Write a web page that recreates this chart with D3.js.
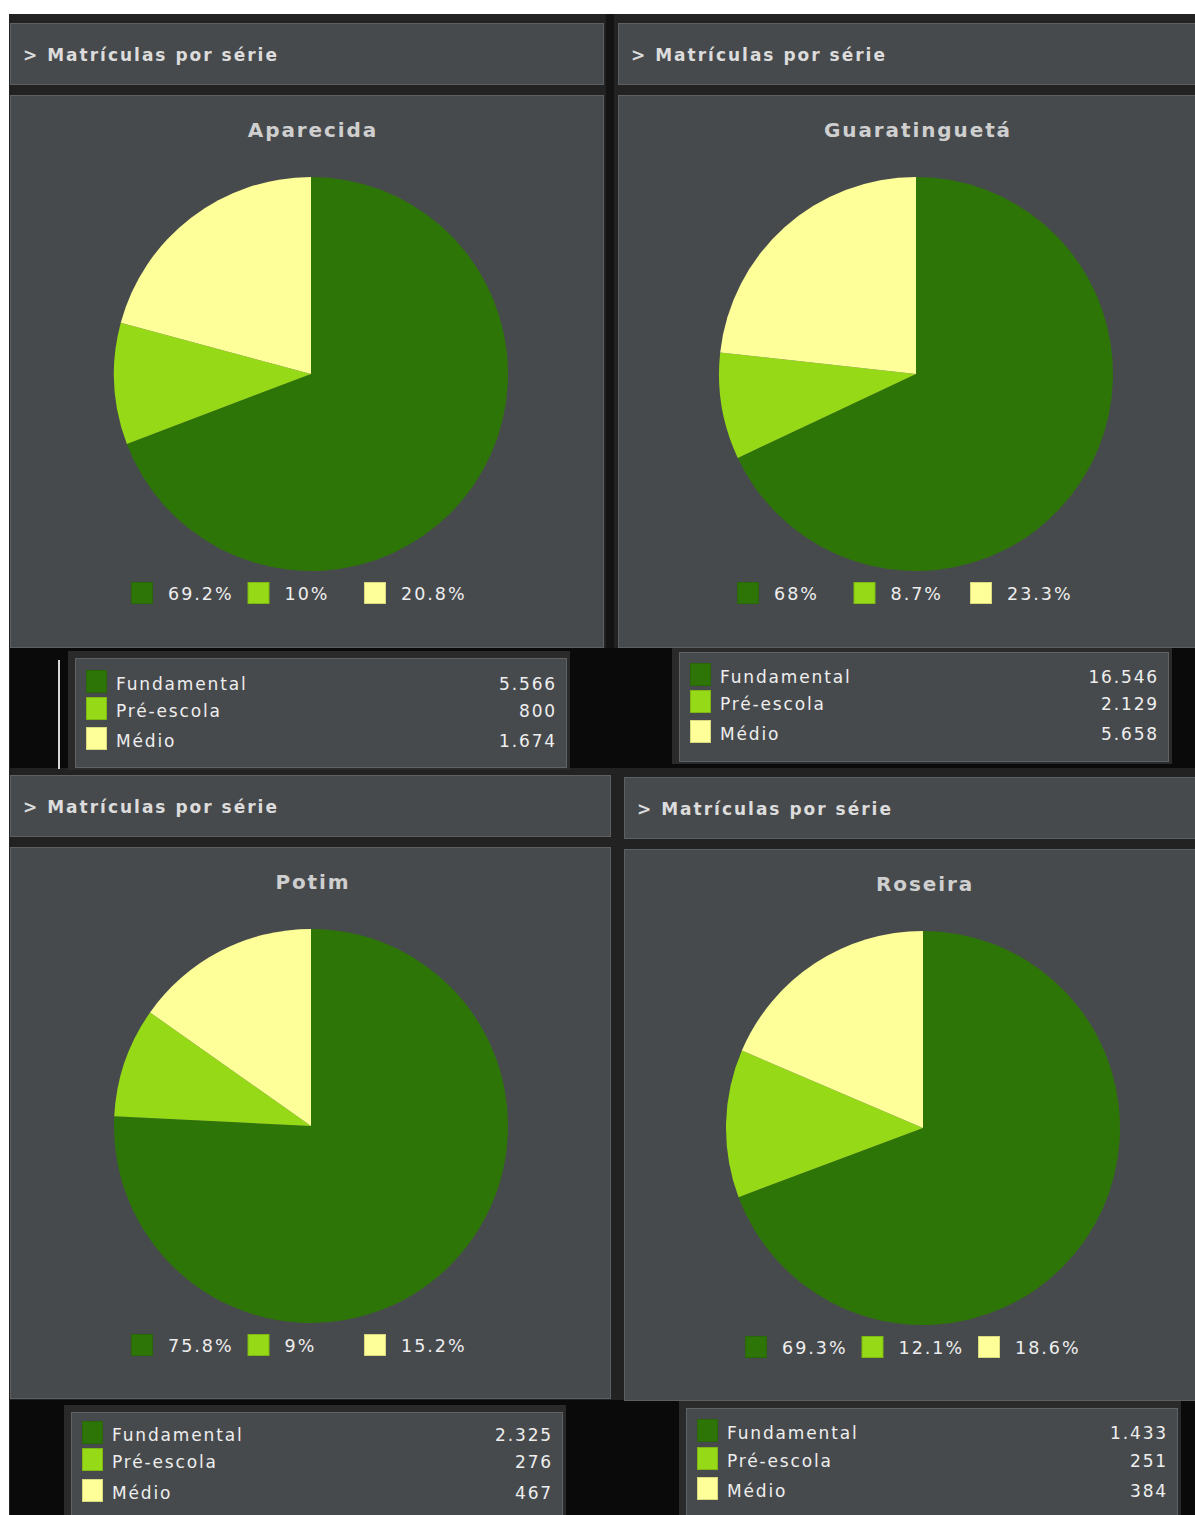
<!DOCTYPE html>
<html>
<head>
<meta charset="utf-8">
<script src="https://cdn.jsdelivr.net/npm/d3@7"></script>
<style>
  body { margin: 0; background: #fff; }
  svg { display: block; }
  text { font-family: "DejaVu Sans", Verdana, sans-serif; }
</style>
</head>
<body>
<svg id="chart" width="1195" height="1515"></svg>
<script>
var cities = ["Aparecida", "Guaratinguetá", "Potim", "Roseira"];
var categories = ["Fundamental", "Pré-escola", "Médio"];
var fundamental = [5566, 16546, 2325, 1433];
var preEscola = [800, 2129, 276, 251];
var medio = [1674, 5658, 467, 384];
var headerText = "> Matrículas por série";

var colors = ["#2e7508", "#96d916", "#ffff99"];
var borders = ["#286606", "#7fb812", "#d8d87e"];

// panel boxes, one per city (layout only)
var panels = [
    { x0: 10, x1: 604, hy: 23, cy: 95, cb: 648, pcx: 311, tx: 75, tw: 492, ty: 658, tb: 768, legX: 131, rows: [683, 710, 740], line: true },
    { x0: 618, x1: 1200, hy: 23, cy: 95, cb: 648, pcx: 916, tx: 679, tw: 490, ty: 652, tb: 762, legX: 737, rows: [676, 703, 733] },
    { x0: 10, x1: 611, hy: 775, cy: 847, cb: 1399, pcx: 311, tx: 71, tw: 492, ty: 1412, tb: 1530, legX: 131, rows: [1434, 1461, 1492] },
    { x0: 624, x1: 1200, hy: 777, cy: 849, cb: 1401, pcx: 923, tx: 686, tw: 492, ty: 1408, tb: 1530, legX: 745, rows: [1432, 1460, 1490] }
];

var locale = d3.formatLocale({ decimal: ",", thousands: ".", grouping: [3], currency: ["R$", ""] });
var fmtNum = locale.format(",d");
var fmtPct = function (v) { return d3.format(".1f")(v).replace(/\.0$/, "") + "%"; };

var svg = d3.select("#chart");

// backgrounds
svg.append("rect").attr("x", 9).attr("y", 14).attr("width", 1186).attr("height", 1501).attr("fill", "#222222");
svg.append("rect").attr("x", 606).attr("y", 14).attr("width", 8).attr("height", 634).attr("fill", "#131313");
svg.append("rect").attr("x", 10).attr("y", 648).attr("width", 1185).attr("height", 120).attr("fill", "#0a0a0a");
svg.append("rect").attr("x", 10).attr("y", 1400).attr("width", 1185).attr("height", 115).attr("fill", "#0a0a0a");

var pie = d3.pie().sort(null).value(function (d) { return d; });
var arc = d3.arc().innerRadius(0).outerRadius(197);

cities.forEach(function (city, i) {
    var p = panels[i];
    var values = [fundamental[i], preEscola[i], medio[i]];
    var total = d3.sum(values);
    var g = svg.append("g");

    // header
    g.append("rect").attr("x", p.x0 + 0.5).attr("y", p.hy + 0.5)
        .attr("width", p.x1 - p.x0 - 1).attr("height", 61)
        .attr("fill", "#474a4d").attr("stroke", "#5d6063");
    g.append("text").attr("x", p.x0 + 13).attr("y", p.hy + 38)
        .attr("fill", "#dcdcdc").attr("font-size", 17).attr("font-weight", "bold")
        .attr("letter-spacing", 2)
        .text(headerText);

    // chart panel
    g.append("rect").attr("x", p.x0 + 0.5).attr("y", p.cy + 0.5)
        .attr("width", p.x1 - p.x0 - 1).attr("height", p.cb - p.cy - 1)
        .attr("fill", "#474a4d").attr("stroke", "#5d6063");

    var pcy = p.cy + 279;

    g.append("text").attr("x", p.pcx + 2).attr("y", p.cy + 42)
        .attr("text-anchor", "middle").attr("fill", "#cfcfcf")
        .attr("font-size", 20).attr("font-weight", "bold").attr("letter-spacing", 1.9)
        .text(city);

    g.append("g").attr("transform", "translate(" + p.pcx + "," + pcy + ")")
        .selectAll("path")
        .data(pie(values))
        .enter().append("path")
        .attr("d", arc)
        .attr("fill", function (d, k) { return colors[k]; });

    // percent legend
    var leg = g.append("g").attr("transform", "translate(" + p.legX + "," + (p.cy + 487) + ")");
    var item = leg.selectAll("g").data(values).enter().append("g")
        .attr("transform", function (d, k) { return "translate(" + (k * 116.5) + ",0)"; });
    item.append("rect").attr("x", 0.5).attr("y", 0.5).attr("width", 21).attr("height", 21)
        .attr("fill", function (d, k) { return colors[k]; })
        .attr("stroke", function (d, k) { return borders[k]; });
    item.append("text").attr("x", 37).attr("y", 18)
        .attr("fill", "#eeeeee").attr("font-size", 17.5).attr("letter-spacing", 2)
        .text(function (d) { return fmtPct(d / total * 100); });

    // value table
    if (p.line) {
        g.append("rect").attr("x", 58).attr("y", 660).attr("width", 2).attr("height", 109).attr("fill", "#d8d8d8");
    }
    var fy = Math.max(p.ty - 7, p.cb);
    g.append("rect").attr("x", p.tx - 7).attr("y", fy)
        .attr("width", p.tw + 10).attr("height", p.tb - fy + 2)
        .attr("fill", "#2a2a2a");
    g.append("rect").attr("x", p.tx + 0.5).attr("y", p.ty + 0.5)
        .attr("width", p.tw - 1).attr("height", p.tb - p.ty - 1)
        .attr("fill", "#474a4d").attr("stroke", "#606366");

    var row = g.selectAll(".row").data(categories).enter().append("g")
        .attr("transform", function (d, k) { return "translate(" + p.tx + "," + p.rows[k] + ")"; });
    row.append("rect").attr("x", 11.5).attr("y", -12.5).attr("width", 20).attr("height", 22)
        .attr("fill", function (d, k) { return colors[k]; })
        .attr("stroke", function (d, k) { return borders[k]; });
    row.append("text").attr("x", 41).attr("y", 7)
        .attr("fill", "#eeeeee").attr("font-size", 17).attr("letter-spacing", 1.85)
        .text(function (d) { return d; });
    row.append("text").attr("x", p.tw - 10).attr("y", 7)
        .attr("text-anchor", "end")
        .attr("fill", "#eeeeee").attr("font-size", 17).attr("letter-spacing", 1.85)
        .text(function (d, k) { return fmtNum(values[k]); });
});
</script>
</body>
</html>
